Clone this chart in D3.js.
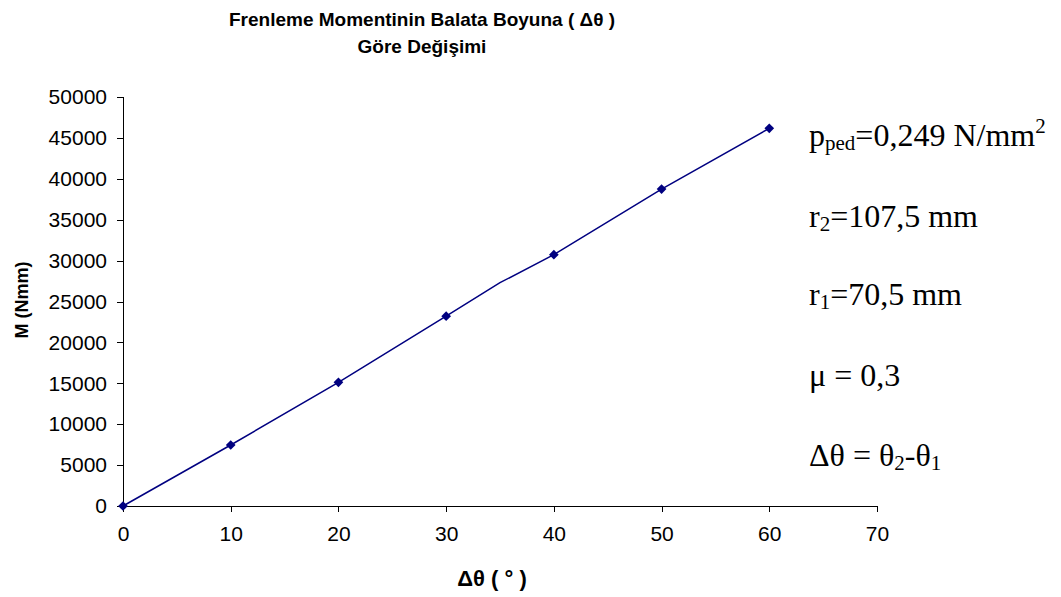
<!DOCTYPE html>
<html><head><meta charset="utf-8">
<script src="https://cdn.jsdelivr.net/npm/d3@7"></script>
<style>body{margin:0;background:#fff}svg{display:block}</style>
</head><body>
<script>
const angles = [0, 10, 20, 30, 35, 40, 50, 60];
const moments = [0, 7460, 15120, 23200, 27300, 30720, 38750, 46170];
const marked = [true, true, true, true, false, true, true, true];
const xTicks = [0, 10, 20, 30, 40, 50, 60, 70];
const yTicks = [0, 5000, 10000, 15000, 20000, 25000, 30000, 35000, 40000, 45000, 50000];
const titleLines = ["Frenleme Momentinin Balata Boyuna ( Δθ )", "Göre Değişimi"];
const xTitle = "Δθ ( ° )";
const yTitle = "M (Nmm)";

const W = 1061, H = 597;
const svg = d3.select("body").append("svg").attr("width", W).attr("height", H);
const x = d3.scaleLinear().domain([0, 70]).range([123, 877]);
const y = d3.scaleLinear().domain([0, 50000]).range([506, 97]);

const sans = "'Liberation Sans', Arial, sans-serif";
const serif = "'Liberation Serif', 'Times New Roman', serif";

// axes
const xAxis = svg.append("g").attr("transform", `translate(0,${y(0)})`)
  .call(d3.axisBottom(x).tickValues(xTicks).tickSize(6).tickSizeOuter(6).tickPadding(14).tickFormat(d3.format("d")));
const yAxis = svg.append("g").attr("transform", `translate(${x(0)},0)`)
  .call(d3.axisLeft(y).tickValues(yTicks).tickSize(6).tickSizeOuter(6).tickPadding(10).tickFormat(d3.format("d")));
[xAxis, yAxis].forEach(g => {
  g.selectAll("path,line").attr("stroke", "#000").attr("stroke-width", 1).attr("shape-rendering", "crispEdges");
  g.selectAll("text").attr("font-family", sans).attr("font-size", 21).attr("fill", "#000");
});
xAxis.select(".domain").attr("d", `M${x(0)},0H${x(70)}V6`);
yAxis.select(".domain").attr("d", `M-6,${y(50000)}H0V${y(0)}`);

// line
const pts = angles.map((a, i) => ({a, m: moments[i], mk: marked[i]}));
svg.append("path").datum(pts)
  .attr("fill", "none").attr("stroke", "#000080").attr("stroke-width", 1.5)
  .attr("d", d3.line().x(d => x(d.a)).y(d => y(d.m)));
svg.append("g").selectAll("path").data(pts.filter(d => d.mk)).join("path")
  .attr("transform", d => `translate(${x(d.a)},${y(d.m)})`)
  .attr("d", d3.symbol(d3.symbolDiamond2, 60)())
  .attr("fill", "#000080");

// title
svg.append("text").attr("x", 422).attr("y", 26).attr("text-anchor", "middle")
  .attr("font-family", sans).attr("font-weight", "bold").attr("font-size", 19)
  .selectAll("tspan").data(titleLines).join("tspan")
  .attr("x", 422).attr("dy", (d, i) => i ? 27 : 0).text(d => d);

svg.append("text").attr("x", 492).attr("y", 586).attr("text-anchor", "middle")
  .attr("font-family", sans).attr("font-weight", "bold").attr("font-size", 22).text(xTitle);
svg.append("text").attr("transform", "translate(28,300) rotate(-90)").attr("text-anchor", "middle")
  .attr("font-family", sans).attr("font-weight", "bold").attr("font-size", 18).text(yTitle);

// annotations
const ann = svg.append("g").attr("font-family", serif).attr("font-size", 32).attr("fill", "#000");
function addLine(yy, parts) {
  const t = ann.append("text").attr("x", 809).attr("y", yy);
  parts.forEach(p => {
    const s = t.append("tspan").text(p[0]);
    if (p[1] === "sub") s.attr("font-size", 21).attr("baseline-shift", "-4");
    if (p[1] === "sup") s.attr("font-size", 21).attr("baseline-shift", "13");
  });
}
addLine(146, [["p"], ["ped", "sub"], ["=0,249 N/mm"], ["2", "sup"]]);
addLine(227, [["r"], ["2", "sub"], ["=107,5 mm"]]);
addLine(305, [["r"], ["1", "sub"], ["=70,5 mm"]]);
addLine(386, [["μ = 0,3"]]);
addLine(466, [["Δθ = θ"], ["2", "sub"], ["-θ"], ["1", "sub"]]);
</script>
</body></html>
